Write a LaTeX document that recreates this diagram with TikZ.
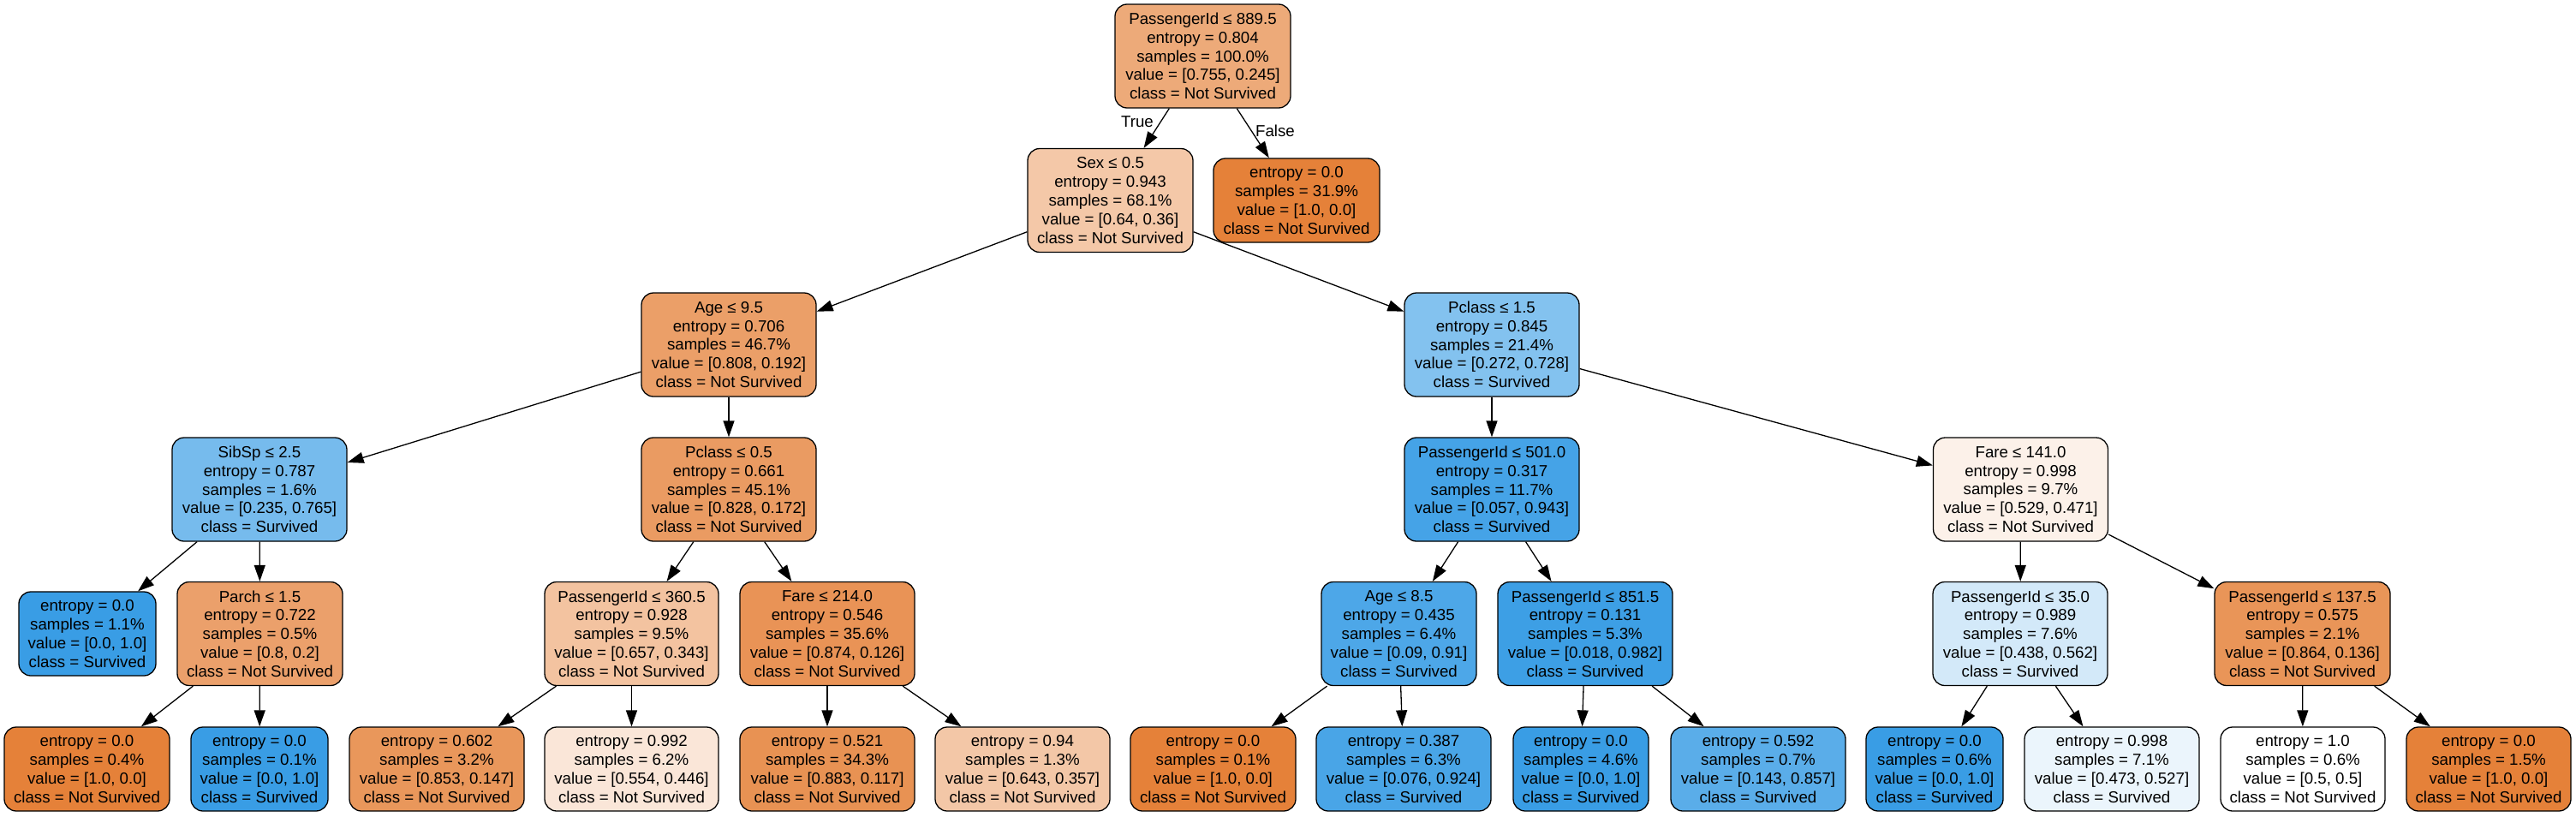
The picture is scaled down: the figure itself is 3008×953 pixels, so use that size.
\documentclass[tikz,border=0pt]{standalone}
\usepackage{fontspec}
\setmainfont{Liberation Sans}
\usetikzlibrary{arrows.meta}
\definecolor{cO}{RGB}{229,129,57}
\definecolor{cB}{RGB}{57,157,229}
\tikzset{
  tn/.style={draw=black, line width=1.3pt, rounded corners=14pt, align=center,
    inner sep=0pt, font=\fontsize{18.7}{21.8}\selectfont, minimum height=121pt},
  lf/.style={tn, minimum height=98pt},
  ed/.style={line width=1.3pt, -{Triangle[length=19pt,width=13pt]}},
  elab/.style={font=\fontsize{18.7}{21.8}\selectfont, inner sep=0pt}
}
\begin{document}
\begin{tikzpicture}[x=1pt,y=-1pt]
\useasboundingbox (0,0) rectangle (3008,953);
% row 0
\node[tn, fill=cO!67.5!white, minimum width=205pt] (n0) at (1404.5,65.5) {PassengerId ≤ 889.5\\entropy = 0.804\\samples = 100.0\%\\value = [0.755, 0.245]\\class = Not Survived};
% row 1
\node[tn, fill=cO!43.8!white, minimum width=193pt] (sex) at (1296.5,234) {Sex ≤ 0.5\\entropy = 0.943\\samples = 68.1\%\\value = [0.64, 0.36]\\class = Not Survived};
\node[lf, fill=cO, minimum width=194pt] (fl) at (1514,234) {entropy = 0.0\\samples = 31.9\%\\value = [1.0, 0.0]\\class = Not Survived};
% row 2
\node[tn, fill=cO!76.2!white, minimum width=204pt] (age) at (851,402.5) {Age ≤ 9.5\\entropy = 0.706\\samples = 46.7\%\\value = [0.808, 0.192]\\class = Not Survived};
\node[tn, fill=cB!62.6!white, minimum width=204pt] (pc15) at (1742,402.5) {Pclass ≤ 1.5\\entropy = 0.845\\samples = 21.4\%\\value = [0.272, 0.728]\\class = Survived};
% row 3
\node[tn, fill=cB!69.3!white, minimum width=204pt] (sib) at (303,571.5) {SibSp ≤ 2.5\\entropy = 0.787\\samples = 1.6\%\\value = [0.235, 0.765]\\class = Survived};
\node[tn, fill=cO!79.2!white, minimum width=204pt] (pc05) at (851,571.5) {Pclass ≤ 0.5\\entropy = 0.661\\samples = 45.1\%\\value = [0.828, 0.172]\\class = Not Survived};
\node[tn, fill=cB!94!white, minimum width=204pt] (p501) at (1742,571.5) {PassengerId ≤ 501.0\\entropy = 0.317\\samples = 11.7\%\\value = [0.057, 0.943]\\class = Survived};
\node[tn, fill=cO!11!white, minimum width=204pt] (f141) at (2359.5,571.5) {Fare ≤ 141.0\\entropy = 0.998\\samples = 9.7\%\\value = [0.529, 0.471]\\class = Not Survived};
% row 4
\node[lf, fill=cB, minimum width=160pt] (la) at (102,740) {entropy = 0.0\\samples = 1.1\%\\value = [0.0, 1.0]\\class = Survived};
\node[tn, fill=cO!75!white, minimum width=193pt] (parch) at (303.5,740) {Parch ≤ 1.5\\entropy = 0.722\\samples = 0.5\%\\value = [0.8, 0.2]\\class = Not Survived};
\node[tn, fill=cO!47.8!white, minimum width=203pt] (p360) at (737.5,740) {PassengerId ≤ 360.5\\entropy = 0.928\\samples = 9.5\%\\value = [0.657, 0.343]\\class = Not Survived};
\node[tn, fill=cO!85.6!white, minimum width=204pt] (f214) at (966,740) {Fare ≤ 214.0\\entropy = 0.546\\samples = 35.6\%\\value = [0.874, 0.126]\\class = Not Survived};
\node[tn, fill=cB!90.1!white, minimum width=181pt] (age85) at (1633.5,740) {Age ≤ 8.5\\entropy = 0.435\\samples = 6.4\%\\value = [0.09, 0.91]\\class = Survived};
\node[tn, fill=cB!98.2!white, minimum width=204pt] (p851) at (1851,740) {PassengerId ≤ 851.5\\entropy = 0.131\\samples = 5.3\%\\value = [0.018, 0.982]\\class = Survived};
\node[tn, fill=cB!22!white, minimum width=204pt] (p35) at (2359,740) {PassengerId ≤ 35.0\\entropy = 0.989\\samples = 7.6\%\\value = [0.438, 0.562]\\class = Survived};
\node[tn, fill=cO!84.3!white, minimum width=205pt] (p137) at (2688.5,740) {PassengerId ≤ 137.5\\entropy = 0.575\\samples = 2.1\%\\value = [0.864, 0.136]\\class = Not Survived};
% row 5
\node[lf, fill=cO, minimum width=193pt] (l1) at (101.5,898) {entropy = 0.0\\samples = 0.4\%\\value = [1.0, 0.0]\\class = Not Survived};
\node[lf, fill=cB, minimum width=160pt] (l2) at (303,898) {entropy = 0.0\\samples = 0.1\%\\value = [0.0, 1.0]\\class = Survived};
\node[lf, fill=cO!82.8!white, minimum width=204pt] (l3) at (510,898) {entropy = 0.602\\samples = 3.2\%\\value = [0.853, 0.147]\\class = Not Survived};
\node[lf, fill=cO!19.5!white, minimum width=203pt] (l4) at (737.5,898) {entropy = 0.992\\samples = 6.2\%\\value = [0.554, 0.446]\\class = Not Survived};
\node[lf, fill=cO!86.7!white, minimum width=204pt] (l5) at (966,898) {entropy = 0.521\\samples = 34.3\%\\value = [0.883, 0.117]\\class = Not Survived};
\node[lf, fill=cO!44.5!white, minimum width=204pt] (l6) at (1194,898) {entropy = 0.94\\samples = 1.3\%\\value = [0.643, 0.357]\\class = Not Survived};
\node[lf, fill=cO, minimum width=193pt] (l7) at (1416.5,898) {entropy = 0.0\\samples = 0.1\%\\value = [1.0, 0.0]\\class = Not Survived};
\node[lf, fill=cB!91.8!white, minimum width=204pt] (l8) at (1639,898) {entropy = 0.387\\samples = 6.3\%\\value = [0.076, 0.924]\\class = Survived};
\node[lf, fill=cB, minimum width=158pt] (l9) at (1846,898) {entropy = 0.0\\samples = 4.6\%\\value = [0.0, 1.0]\\class = Survived};
\node[lf, fill=cB!83.3!white, minimum width=204pt] (l10) at (2053,898) {entropy = 0.592\\samples = 0.7\%\\value = [0.143, 0.857]\\class = Survived};
\node[lf, fill=cB, minimum width=160pt] (l11) at (2259,898) {entropy = 0.0\\samples = 0.6\%\\value = [0.0, 1.0]\\class = Survived};
\node[lf, fill=cB!10.2!white, minimum width=204pt] (l12) at (2466,898) {entropy = 0.998\\samples = 7.1\%\\value = [0.473, 0.527]\\class = Survived};
\node[lf, fill=white, minimum width=192pt] (l13) at (2689,898) {entropy = 1.0\\samples = 0.6\%\\value = [0.5, 0.5]\\class = Not Survived};
\node[lf, fill=cO, minimum width=192pt] (l14) at (2906,898) {entropy = 0.0\\samples = 1.5\%\\value = [1.0, 0.0]\\class = Not Survived};
% edges
\draw[ed] (n0) -- (sex);
\draw[ed] (n0) -- (fl);
\node[elab] (tt) at (1328,142) {True};
\node[elab] (tf) at (1489,153) {False};
\draw[ed] (sex) -- (age);
\draw[ed] (sex) -- (pc15);
\draw[ed] (age) -- (sib);
\draw[ed] (age) -- (pc05);
\draw[ed] (pc15) -- (p501);
\draw[ed] (pc15) -- (f141);
\draw[ed] (sib) -- (la);
\draw[ed] (sib) -- (parch);
\draw[ed] (pc05) -- (p360);
\draw[ed] (pc05) -- (f214);
\draw[ed] (p501) -- (age85);
\draw[ed] (p501) -- (p851);
\draw[ed] (f141) -- (p35);
\draw[ed] (f141) -- (p137);
\draw[ed] (parch) -- (l1);
\draw[ed] (parch) -- (l2);
\draw[ed] (p360) -- (l3);
\draw[ed] (p360) -- (l4);
\draw[ed] (f214) -- (l5);
\draw[ed] (f214) -- (l6);
\draw[ed] (age85) -- (l7);
\draw[ed] (age85) -- (l8);
\draw[ed] (p851) -- (l9);
\draw[ed] (p851) -- (l10);
\draw[ed] (p35) -- (l11);
\draw[ed] (p35) -- (l12);
\draw[ed] (p137) -- (l13);
\draw[ed] (p137) -- (l14);
\end{tikzpicture}
\end{document}
